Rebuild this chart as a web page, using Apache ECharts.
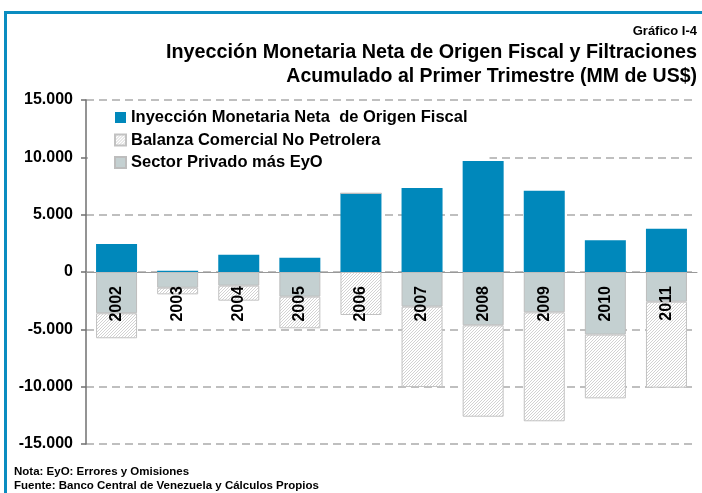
<!DOCTYPE html>
<html>
<head>
<meta charset="utf-8">
<script src="https://cdn.jsdelivr.net/npm/echarts@6/dist/echarts.min.js"></script>
<style>
html,body{margin:0;padding:0;background:#fff;}
#chart{width:702px;height:493px;}
</style>
</head>
<body>
<div id="chart"></div>
<script>
// ---- data ----
const categories = ['2002','2003','2004','2005','2006','2007','2008','2009','2010','2011'];
const inyeccion = [2450, 100, 1510, 1250, 6860, 7320, 9680, 7090, 2760, 3780];
const sectorPrivado = [-3600, -1370, -1190, -2150, 0, -3020, -4650, -3520, -5460, -2590];
const balanza = [-2180, -580, -1310, -2760, -3750, -7010, -7970, -9500, -5560, -7500];
const seriesNames = ['Inyección Monetaria Neta  de Origen Fiscal', 'Balanza Comercial No Petrolera', 'Sector Privado más EyO'];
const titleLines = ['Gráfico I-4', 'Inyección Monetaria Neta de Origen Fiscal y Filtraciones', 'Acumulado al Primer Trimestre (MM de US$)'];
const notes = ['Nota: EyO: Errores y Omisiones', 'Fuente: Banco Central de Venezuela y Cálculos Propios'];

const FONT = '"Liberation Sans", Arial, Helvetica, sans-serif';

// hatch pattern
const T = 3;
const pc = document.createElement('canvas');
pc.width = T; pc.height = T;
const g = pc.getContext('2d');
g.fillStyle = '#ffffff'; g.fillRect(0,0,T,T);
g.strokeStyle = '#cdcdcd'; g.lineWidth = 0.9;
g.beginPath();
g.moveTo(-1,T+1); g.lineTo(T+1,-1);
g.moveTo(-1,1); g.lineTo(1,-1);
g.moveTo(T-1,T+1); g.lineTo(T+1,T-1);
g.stroke();

function fmt(v){
  const s = String(Math.abs(v)).replace(/\B(?=(\d{3})+(?!\d))/g, '.');
  return (v < 0 ? '-' : '') + s;
}

const chart = echarts.init(document.getElementById('chart'), null, {renderer:'canvas'});
const gridTop = 100, gridBottom = 49;
const plotH = 493 - gridTop - gridBottom;
const yMin = -15000, yMax = 15000;
// offset that moves the bottom label axis up to value 0
const zeroOffset = -plotH * (0 - yMin) / (yMax - yMin);

chart.setOption({
  animation:false,
  backgroundColor:'#fff',
  grid:{left:86, right:5, top:gridTop, bottom:gridBottom},
  legend:{
    data:[seriesNames[0], seriesNames[1], seriesNames[2]],
    orient:'vertical', left:88, top:104, z:1,
    padding:[5,22,5,26],
    backgroundColor:'#fff',
    icon:'rect',
    itemWidth:11, itemHeight:11, itemGap:5.5,
    textStyle:{fontFamily:FONT, fontWeight:'bold', fontSize:16.5, color:'#000', lineHeight:16},
    selectedMode:false
  },
  xAxis:[
    {type:'category', data:categories,
     axisLine:{show:true, onZero:true, lineStyle:{color:'#999', width:1}},
     axisTick:{show:false}, axisLabel:{show:false}, splitLine:{show:false}},
    {type:'category', data:categories, position:'bottom', offset:zeroOffset, z:10,
     axisLine:{show:false, onZero:false},
     axisTick:{show:false},
     axisLabel:{show:true, rotate:90, margin:14, fontFamily:FONT, fontWeight:'bold', fontSize:16, color:'#000'},
     splitLine:{show:false}}
  ],
  yAxis:{type:'value', min:yMin, max:yMax, interval:5000,
     axisLine:{show:true, lineStyle:{color:'#707070', width:1.5}},
     axisTick:{show:true, length:5, lineStyle:{color:'#707070', width:1.5}},
     axisLabel:{margin:13, fontFamily:FONT, fontWeight:'bold', fontSize:16, color:'#000', formatter:fmt},
     splitLine:{show:true, lineStyle:{color:'#ababab', width:1.5, type:[8,5]}}},
  series:[
    {name:seriesNames[0], type:'bar', stack:'s', data:inyeccion, barWidth:41, z:2,
     itemStyle:{color:'#0088bb'}},
    {name:seriesNames[2], type:'bar', stack:'s', data:sectorPrivado, barWidth:41, z:2,
     itemStyle:{color:'#c4d0d1', borderColor:'#bdbdbd', borderWidth:1}},
    {name:seriesNames[1], type:'bar', stack:'s', data:balanza, barWidth:41, z:2,
     itemStyle:{color:{image:pc, repeat:'repeat'}, borderColor:'#c2c2c2', borderWidth:1}}
  ],
  graphic:[
    {type:'rect', shape:{x:4, y:11, width:698, height:3}, style:{fill:'#0a8cc0'}, z:100},
    {type:'rect', shape:{x:4, y:11, width:3, height:482}, style:{fill:'#0a8cc0'}, z:100},
    {type:'text', x:697, y:31, style:{text:titleLines[0], align:'right', verticalAlign:'middle', font:'bold 13px ' + FONT, fill:'#000'}},
    {type:'text', x:697, y:53, style:{text:titleLines[1], align:'right', verticalAlign:'middle', font:'bold 19.8px ' + FONT, fill:'#000'}},
    {type:'text', x:697, y:77, style:{text:titleLines[2], align:'right', verticalAlign:'middle', font:'bold 19.5px ' + FONT, fill:'#000'}},
    {type:'text', x:14, y:472, style:{text:notes[0], align:'left', verticalAlign:'middle', font:'bold 11.5px ' + FONT, fill:'#000'}},
    {type:'text', x:14, y:486, style:{text:notes[1], align:'left', verticalAlign:'middle', font:'bold 11.5px ' + FONT, fill:'#000'}}
  ]
});
</script>
</body>
</html>
